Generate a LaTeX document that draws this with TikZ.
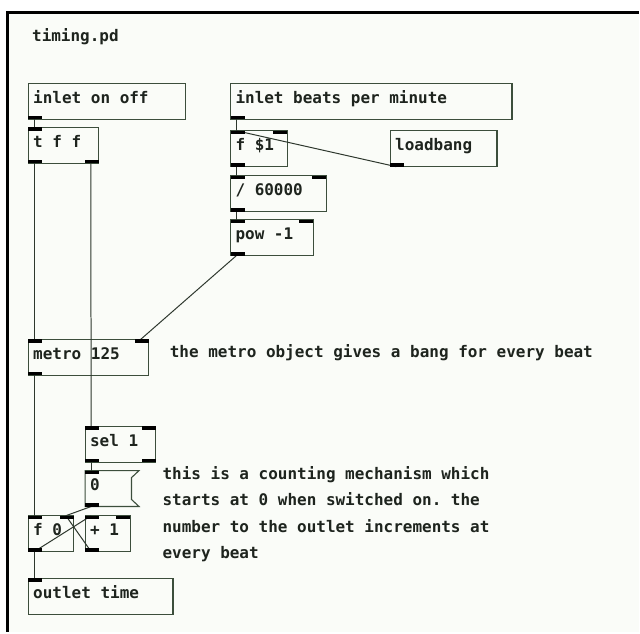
\documentclass[tikz,border=0pt]{standalone}
\usepackage{fontspec}
\newfontfamily\pdfont{DejaVu Sans Mono}[WordSpace={1,0,0}]
\usetikzlibrary{calc}
\definecolor{bgc}{RGB}{250,252,248}
\definecolor{boxc}{RGB}{60,78,60}
\definecolor{linec}{RGB}{45,55,45}
\definecolor{txtc}{RGB}{30,36,30}
\newcommand\pdio[1]{%
  \coordinate (#1-i0) at ($(#1.north west)+(6,0)$);
  \coordinate (#1-i1) at ($(#1.north east)+(-8,0)$);
  \coordinate (#1-o0) at ($(#1.south west)+(6,0)$);
  \coordinate (#1-o1) at ($(#1.south east)+(-8,0)$);}
\newcommand\pdinl[1]{\fill[iolet] (#1.north west) rectangle ++(14,3.5);}
\newcommand\pdinr[1]{\fill[iolet] (#1.north east) rectangle ++(-14,3.5);}
\newcommand\pdoutl[1]{\fill[iolet] (#1.south west) rectangle ++(14,-3.5);}
\newcommand\pdoutr[1]{\fill[iolet] (#1.south east) rectangle ++(-14,-3.5);}
\tikzset{
  pd/.style={font=\pdfont\bfseries\fontsize{16pt}{19pt}\selectfont\frenchspacing, text=txtc},
  obj/.style={pd, draw=boxc, line width=1.1pt, rectangle, anchor=north west,
    minimum height=36pt, inner xsep=5pt, inner ysep=0pt, outer sep=0pt,
    text height=9pt, text depth=5pt,
    execute at begin node={\spaceskip=0pt\xspaceskip=0pt\relax}},
  msgbox/.style={obj, draw=none},
  msgline/.style={draw=boxc, line width=1.1pt},
  iolet/.style={fill=black},
  conn/.style={draw=linec, line width=1pt},
  comment/.style={pd, anchor=base west, inner sep=0pt},
}
\begin{document}
\begin{tikzpicture}[x=1pt,y=-1pt]
\fill[white] (0,0) rectangle (640,633);
\fill[bgc] (7.5,12.5) rectangle (640,633);
\draw[line width=2.5pt, black] (7.5,633) -- (7.5,12.5) -- (640,12.5);
\useasboundingbox (0,0) rectangle (640,633);

\node[comment] (title) at (32,42) {timing.pd};

\node[obj, text width=147.4pt] (inon) at (28.3,83.3) {inlet on off};
\node[obj, text width=60.7pt] (tff) at (28.3,127.5) {t f f};
\node[obj, text width=272pt] (inbpm) at (231,83.3) {inlet beats per minute};
\node[obj, text width=47pt] (fs1) at (231,131) {f \$1};
\node[obj, text width=97pt] (lb) at (391,131) {loadbang};
\node[obj, text width=85.7pt] (div) at (231,176) {/ 60000};
\node[obj, text width=73pt] (pow) at (231,220) {pow -1};
\node[obj, text width=110.7pt] (metro) at (28.3,340) {metro 125};
\node[obj, text width=60.7pt] (sel) at (85.3,427.3) {sel 1};
\node[msgbox, text width=44pt] (msg) at (85.3,471.5) {0};
\draw[msgline] (msg.north west) -- (msg.north east) -- ($(msg.north east)+(-7.5,7)$)
  -- ($(msg.south east)+(-7.5,-7)$) -- (msg.south east) -- (msg.south west) -- cycle;
\node[obj, text width=35.7pt] (f0) at (28.3,516.7) {f 0};
\node[obj, text width=35.4pt] (plus) at (85.3,516.7) {+ 1};
\node[obj, text width=135pt] (outt) at (28.3,579.3) {outlet time};

\node[comment] (c1) at (170,358) {the metro object gives a bang for every beat};
\node[comment, align=left, font=\pdfont\bfseries\fontsize{16pt}{26.67pt}\selectfont\frenchspacing] (c2) at (162.7,560)
  {this is a counting mechanism which\\starts at 0 when switched on. the\\number to the outlet increments at\\every beat};

\pdio{inon}\pdio{tff}\pdio{inbpm}\pdio{fs1}\pdio{lb}\pdio{div}\pdio{pow}
\pdio{metro}\pdio{sel}\pdio{msg}\pdio{f0}\pdio{plus}\pdio{outt}

\draw[conn] (inon-o0) -- (tff-i0);
\draw[conn] (tff-o0) -- (metro-i0);
\draw[conn] (tff-o1) -- (sel-i0);
\draw[conn] (inbpm-o0) -- (fs1-i0);
\draw[conn] (lb-o0) -- (fs1-i0);
\draw[conn] (fs1-o0) -- (div-i0);
\draw[conn] (div-o0) -- (pow-i0);
\draw[conn] (pow-o0) -- (metro-i1);
\draw[conn] (metro-o0) -- (f0-i0);
\draw[conn] (sel-o0) -- (msg-i0);
\draw[conn] (msg-o0) -- (f0-i1);
\draw[conn] (f0-o0) -- (plus-i0);
\draw[conn] (plus-o0) -- (f0-i1);
\draw[conn] (f0-o0) -- (outt-i0);

\pdoutl{inon}
\pdinl{tff}\pdoutl{tff}\pdoutr{tff}
\pdoutl{inbpm}
\pdinl{fs1}\pdinr{fs1}\pdoutl{fs1}
\pdoutl{lb}
\pdinl{div}\pdinr{div}\pdoutl{div}
\pdinl{pow}\pdinr{pow}\pdoutl{pow}
\pdinl{metro}\pdinr{metro}\pdoutl{metro}
\pdinl{sel}\pdinr{sel}\pdoutl{sel}\pdoutr{sel}
\pdinl{msg}\pdoutl{msg}
\pdinl{f0}\pdinr{f0}\pdoutl{f0}
\pdinl{plus}\pdinr{plus}\pdoutl{plus}
\pdinl{outt}
\end{tikzpicture}
\end{document}
